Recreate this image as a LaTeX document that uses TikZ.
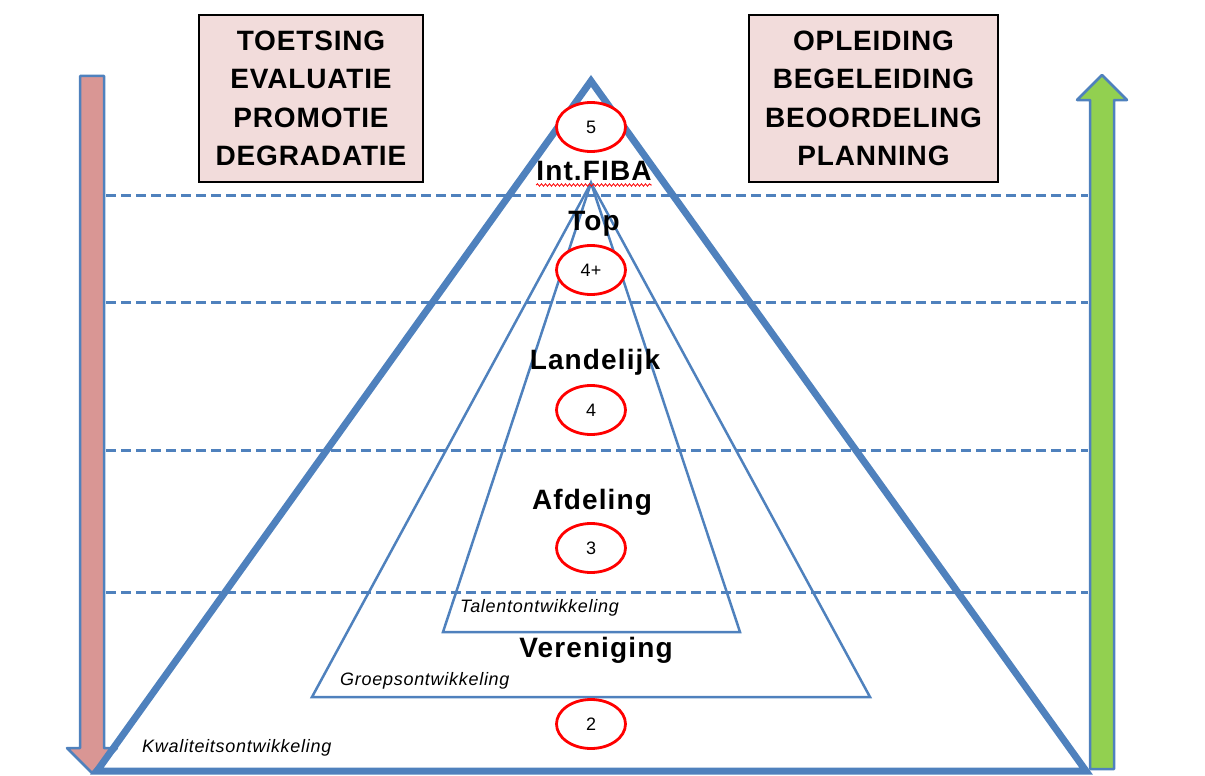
\documentclass[tikz,border=0pt]{standalone}
\usepackage{fontspec}
\setmainfont{Liberation Sans}
\usetikzlibrary{shapes.geometric,decorations.pathmorphing}
\definecolor{lijn}{HTML}{4F81BD}
\definecolor{roze}{HTML}{F2DCDB}
\definecolor{neer}{HTML}{D99694}
\definecolor{op}{HTML}{92D050}

\begin{document}
\begin{tikzpicture}[x=1pt,y=-1pt,
  kader/.style={draw=black,line width=1.2pt,fill=roze,align=center,inner sep=0,
    font=\fontsize{28}{38.5}\selectfont\bfseries\addfontfeature{LetterSpace=3}},
  niveau/.style={anchor=base,inner sep=0,
    font=\fontsize{28}{30}\selectfont\bfseries\addfontfeature{LetterSpace=4}},
  ring/.style={ellipse,draw=red,line width=2.8pt,fill=white,minimum width=69pt,
    minimum height=49pt,inner sep=0,font=\fontsize{18}{20}\selectfont},
  groep/.style={anchor=base west,inner sep=0,
    font=\fontsize{18}{20}\selectfont\itshape\addfontfeature{LetterSpace=4}},
  streep/.style={lijn,line width=3pt,dash pattern=on 10pt off 5pt}]
  \useasboundingbox (0,0) rectangle (1205,776);

  % pijlen links en rechts
  \draw[lijn,line width=2.5pt,fill=neer,line join=round]
    (80,76) -- (104,76) -- (104,748) -- (117,748) -- (92,773) -- (67,748) -- (80,748) -- cycle;
  \draw[lijn,line width=2.5pt,fill=op,line join=round]
    (1090,769) -- (1090,100) -- (1077,100) -- (1102,75) -- (1127,100) -- (1114,100) -- (1114,769) -- cycle;

  % niveaugrenzen
  \foreach \h in {195,302,450,592}
    \draw[streep] (106,\h) -- (1088,\h);

  % piramides
  \coordinate (top) at (591,81);
  \coordinate (kl) at (97,771);
  \coordinate (kr) at (1086,771);
  \coordinate (punt) at (591,183);
  \coordinate (gl) at (312,697);
  \coordinate (gr) at (870,697);
  \coordinate (tl) at (443,632);
  \coordinate (tr) at (740,632);
  \draw[lijn,line width=7pt,line join=miter] (top) -- (kl) -- (kr) -- cycle;
  \draw[lijn,line width=2.5pt] (punt) -- (gl) -- (gr) -- cycle;
  \draw[lijn,line width=2.5pt] (punt) -- (tl) -- (tr) -- cycle;

  % kaders
  \node[kader,minimum width=224pt,minimum height=167pt] (links) at (311,98.5)
    {TOETSING\\EVALUATIE\\PROMOTIE\\DEGRADATIE};
  \node[kader,minimum width=249pt,minimum height=167pt] (rechts) at (873.5,98.5)
    {OPLEIDING\\BEGELEIDING\\BEOORDELING\\PLANNING};

  % niveaus
  \node[ring] (n5) at (591,127) {5};
  \node[niveau] (fiba) at (594,180) {Int.FIBA};
  \draw[red,line width=0.8pt,decorate,decoration={snake,amplitude=1.2pt,segment length=4pt}]
    (fiba.base west) ++(0,5) -- ([yshift=-5pt]fiba.base east);
  \node[niveau] (top4) at (594,230) {Top};
  \node[ring] (n4p) at (591,270) {4+};
  \node[niveau] (land) at (595,369) {Landelijk};
  \node[ring] (n4) at (591,410) {4};
  \node[niveau] (afd) at (592,509) {Afdeling};
  \node[ring] (n3) at (591,548) {3};
  \node[niveau] (ver) at (596,657) {Vereniging};
  \node[ring] (n2) at (591,724) {2};

  % ontwikkeling
  \node[groep] (talent) at (460,612) {Talentontwikkeling};
  \node[groep] (groeps) at (340,685) {Groepsontwikkeling};
  \node[groep] (kwal) at (142,752) {Kwaliteitsontwikkeling};
\end{tikzpicture}
\end{document}
